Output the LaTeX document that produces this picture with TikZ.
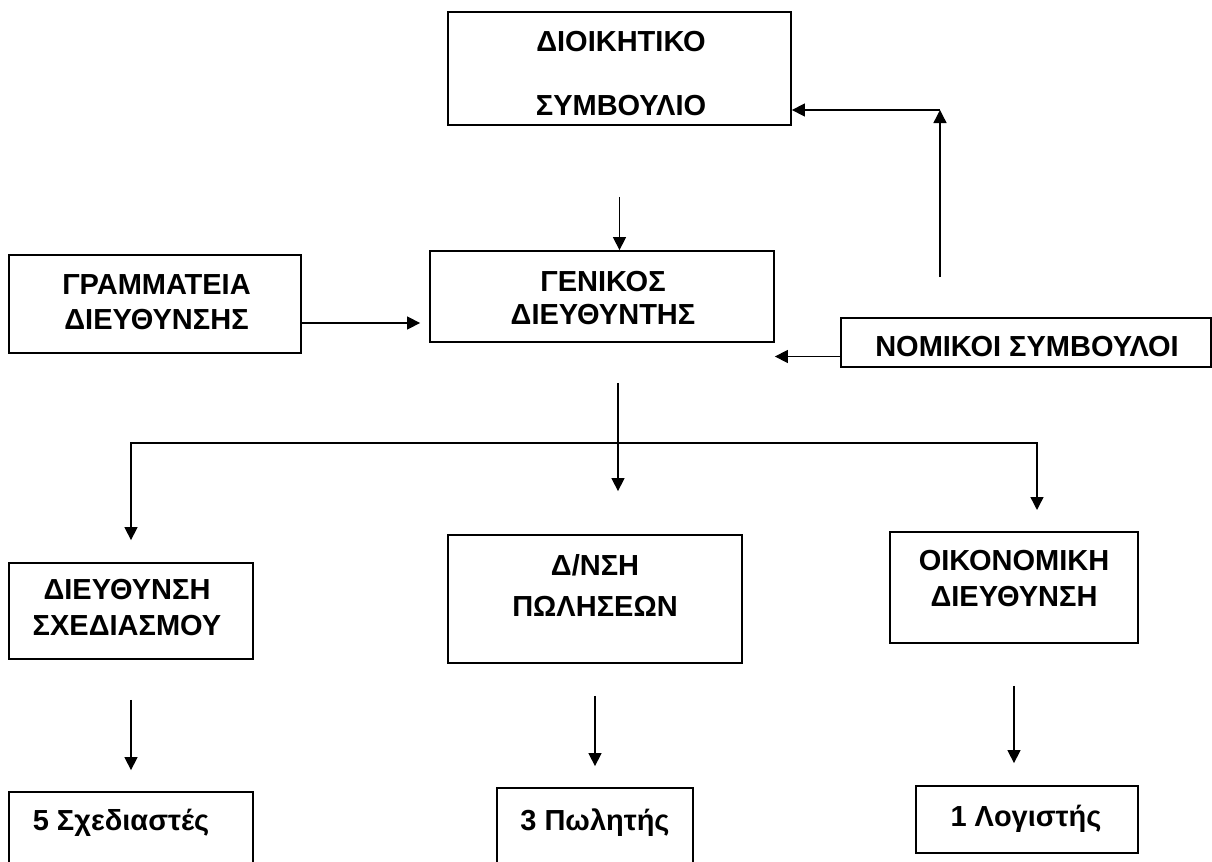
\documentclass[tikz,border=0pt]{standalone}
\usepackage{fontspec}
\setmainfont{Liberation Sans}
\usetikzlibrary{arrows.meta}

\begin{document}
\begin{tikzpicture}[x=0.5pt, y=-0.5pt,
   box/.style={draw, line width=0.9pt, inner sep=0pt},
   lbl/.style={align=center, inner sep=0pt, font=\bfseries\fontsize{14.5}{17.5}\selectfont},
   arr/.style={-{Triangle[length=6.5pt,width=6.5pt]}, line width=0.7pt}]

\useasboundingbox (0,0) rectangle (1212,862);

% boxes
\node[box, minimum width=171.5pt, minimum height=56.5pt] (dioik) at (619.5,68.5) {};
\node[box, minimum width=172pt, minimum height=45.5pt] (gen) at (602,296.5) {};
\node[box, minimum width=146pt, minimum height=49pt] (gram) at (155,304) {};
\node[box, minimum width=185pt, minimum height=24.5pt] (nom) at (1026,342.5) {};
\node[box, minimum width=122pt, minimum height=48pt] (dsx) at (131,611) {};
\node[box, minimum width=147pt, minimum height=64pt] (pol) at (595,599) {};
\node[box, minimum width=124pt, minimum height=55.5pt] (oik) at (1014,587.5) {};
\node[box, minimum width=122pt, minimum height=44pt] (sx) at (131,836) {};
\node[box, minimum width=98pt, minimum height=46pt] (pw) at (595,834) {};
\node[box, minimum width=111pt, minimum height=33.5pt] (lg) at (1027,819.5) {};

% texts
\node[lbl] (dioikT) at (621,74) {ΔΙΟΙΚΗΤΙΚΟ\\[14.5pt]ΣΥΜΒΟΥΛΙΟ};
\node[lbl] (genT) at (603,298.5) {ΓΕΝΙΚΟΣ\\[-1pt]ΔΙΕΥΘΥΝΤΗΣ};
\node[lbl] (gramT) at (156.5,302.5) {ΓΡΑΜΜΑΤΕΙΑ\\ΔΙΕΥΘΥΝΣΗΣ};
\node[lbl] (nomT) at (1027,347) {ΝΟΜΙΚΟΙ ΣΥΜΒΟΥΛΟΙ};
\node[lbl] (dsxT) at (127,608) {ΔΙΕΥΘΥΝΣΗ\\[0.5pt]ΣΧΕΔΙΑΣΜΟΥ};
\node[lbl] (polT) at (595,585.5) {Δ/ΝΣΗ\\[3pt]ΠΩΛΗΣΕΩΝ};
\node[lbl] (oikT) at (1014,579) {ΟΙΚΟΝΟΜΙΚΗ\\[0.5pt]ΔΙΕΥΘΥΝΣΗ};
\node[lbl] (sxT) at (121,823) {5 Σχεδιαστές};
\node[lbl] (pwT) at (595,823) {3 Πωλητής};
\node[lbl] (lgT) at (1026,819) {1 Λογιστής};

% connectors
\coordinate (nb) at (940,277);
\coordinate (nk) at (940,110);
\coordinate (split) at (618,443);
\coordinate (ob) at (1037,510);

\draw[arr, shorten <=35.5pt] (dioik.south) -- (dioik.south |- gen.north);
\draw[arr, shorten >=4.5pt] ([yshift=-9.5pt]gram.east) -- ([yshift=-9.5pt]gram.east -| gen.west);
\draw[arr] ([yshift=-7pt]nom.west) -- ([yshift=-7pt]nom.west -| gen.east);
\draw[arr] (nb) -- (nk);
\draw[arr] (nk) -- (nk -| dioik.east);

\draw[arr, shorten <=20pt, shorten >=21.5pt] (split |- gen.south) -- (split |- pol.north);
\draw[arr, shorten >=11pt] (split) -| (dsx.north);
\draw[arr] (split) -| (ob);

\draw[arr, shorten <=20pt, shorten >=10.5pt] (dsx.south) -- (sx.north);
\draw[arr, shorten <=16pt, shorten >=10.5pt] (pol.south) -- (pw.north);
\draw[arr, shorten <=21pt, shorten >=11pt] (oik.south) -- (oik.south |- lg.north);

\end{tikzpicture}
\end{document}
